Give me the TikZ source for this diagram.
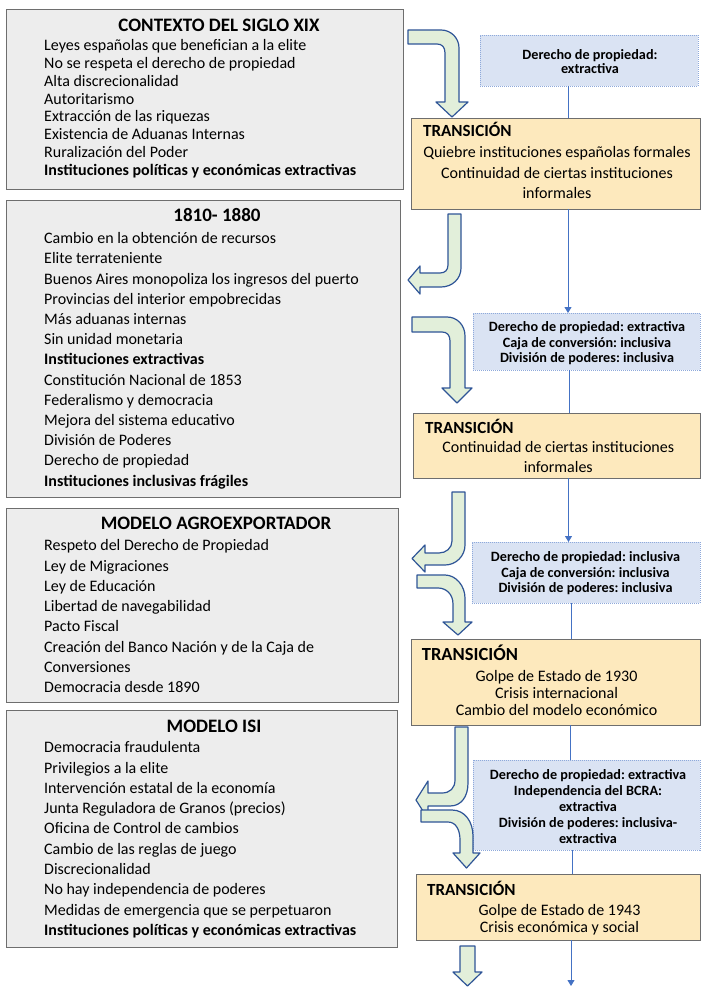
\documentclass[tikz,border=0pt]{standalone}
\usepackage{fontspec}
\setmainfont{Carlito}
\usetikzlibrary{arrows.meta}
\definecolor{grayfill}{HTML}{EDEDED}
\definecolor{boxgray}{HTML}{6E6E6E}
\definecolor{transfill}{HTML}{FDE9BD}
\definecolor{bluefill}{HTML}{DAE3F3}
\definecolor{bluedot}{HTML}{8EA9DB}
\definecolor{greenfill}{HTML}{E2EFDA}
\definecolor{arrowblue}{HTML}{2F5597}
\definecolor{lineblue}{HTML}{4472C4}
\frenchspacing
\begin{document}
\begin{tikzpicture}[x=1pt,y=-1pt,
  box/.style={inner sep=0pt, outer sep=0pt, line width=0.9pt},
  graybox/.style={box, draw=boxgray, fill=grayfill},
  transbox/.style={box, draw=boxgray, fill=transfill},
  bluebox/.style={box, draw=bluedot, fill=bluefill, dash pattern=on 1pt off 1pt},
  greenarrow/.style={draw=arrowblue, fill=greenfill, line width=1.2pt, line join=round},
  blueline/.style={draw=lineblue, line width=0.9pt},
  bluearrow/.style={blueline, -{Triangle[width=7pt,length=6pt]}},
  titletxt/.style={anchor=base, inner sep=0pt, font=\fontsize{19}{22}\selectfont\bfseries},
  transtitle/.style={anchor=base west, inner sep=0pt, font=\fontsize{17}{20}\selectfont\bfseries},
  bodytxt/.style={anchor=north west, inner sep=0pt, align=left},
  transtxt/.style={anchor=north, inner sep=0pt, align=center},
  bluetxt/.style={anchor=north, inner sep=0pt, align=center}
]
\useasboundingbox (0,0) rectangle (701,987);
\fill[white] (0,0) rectangle (701,987);

% ---------- left grey boxes ----------
\node[graybox, minimum width=397pt, minimum height=180pt] (g1) at (204.5,99) {};
\node[graybox, minimum width=394pt, minimum height=297pt] (g2) at (203,348.5) {};
\node[graybox, minimum width=392pt, minimum height=194pt] (g3) at (202,605) {};
\node[graybox, minimum width=391pt, minimum height=237pt] (g4) at (201.5,828.5) {};

\node[titletxt] (g1t) at (219,32) {CONTEXTO DEL SIGLO XIX};
\node[bodytxt, font=\fontsize{16}{17.8}\selectfont] (g1b) at (44,37.5) {\rule{0pt}{13pt}Leyes españolas que benefician a la elite\\
No se respeta el derecho de propiedad\\
Alta discrecionalidad\\
Autoritarismo\\
Extracción de las riquezas\\
Existencia de Aduanas Internas\\
Ruralización del Poder\\
\textbf{Instituciones políticas y económicas extractivas}};

\node[titletxt] (g2t) at (217,221) {1810- 1880};
\node[bodytxt, font=\fontsize{16}{20.2}\selectfont] (g2b) at (44,230.5) {\rule{0pt}{13pt}Cambio en la obtención de recursos\\
Elite terrateniente\\
Buenos Aires monopoliza los ingresos del puerto\\
Provincias del interior empobrecidas\\
Más aduanas internas\\
Sin unidad monetaria\\
\textbf{Instituciones extractivas}\\
Constitución Nacional de 1853\\
Federalismo y democracia\\
Mejora del sistema educativo\\
División de Poderes\\
Derecho de propiedad\\
\textbf{Instituciones inclusivas frágiles}};

\node[titletxt] (g3t) at (216,529.5) {MODELO AGROEXPORTADOR};
\node[bodytxt, font=\fontsize{16}{20.3}\selectfont] (g3b) at (44,537.5) {\rule{0pt}{13pt}Respeto del Derecho de Propiedad\\
Ley de Migraciones\\
Ley de Educación\\
Libertad de navegabilidad\\
Pacto Fiscal\\
Creación del Banco Nación y de la Caja de\\
Conversiones\\
Democracia desde 1890};

\node[titletxt] (g4t) at (214,732.5) {MODELO ISI};
\node[bodytxt, font=\fontsize{16}{20.3}\selectfont] (g4b) at (44,739.5) {\rule{0pt}{13pt}Democracia fraudulenta\\
Privilegios a la elite\\
Intervención estatal de la economía\\
Junta Reguladora de Granos (precios)\\
Oficina de Control de cambios\\
Cambio de las reglas de juego\\
Discrecionalidad\\
No hay independencia de poderes\\
Medidas de emergencia que se perpetuaron\\
\textbf{Instituciones políticas y económicas extractivas}};

% ---------- blue boxes ----------
\node[bluebox, minimum width=218pt, minimum height=51pt] (b1) at (589,60.5) {};
\node[bluebox, minimum width=227pt, minimum height=57pt] (b2) at (586.5,341.5) {};
\node[bluebox, minimum width=228pt, minimum height=61pt] (b3) at (586,572.5) {};
\node[bluebox, minimum width=227pt, minimum height=90pt] (b4) at (586.5,805) {};

\node[bluetxt, font=\fontsize{14.2}{14.3}\selectfont\bfseries] (b1t) at (590,47) {\rule{0pt}{12pt}Derecho de propiedad:\\ extractiva};
\node[bluetxt, font=\fontsize{14.2}{15.5}\selectfont\bfseries] (b2t) at (587,319.5) {\rule{0pt}{12pt}Derecho de propiedad: extractiva\\ Caja de conversión: inclusiva\\ División de poderes: inclusiva};
\node[bluetxt, font=\fontsize{14.2}{15.5}\selectfont\bfseries] (b3t) at (585.5,549.5) {\rule{0pt}{12pt}Derecho de propiedad: inclusiva\\ Caja de conversión: inclusiva\\ División de poderes: inclusiva};
\node[bluetxt, font=\fontsize{14.2}{16}\selectfont\bfseries] (b4t) at (588,767) {\rule{0pt}{12pt}Derecho de propiedad: extractiva\\ Independencia del BCRA:\\ extractiva\\ División de poderes: inclusiva-\\ extractiva};

% ---------- transition boxes ----------
\node[transbox, minimum width=289pt, minimum height=91pt] (t1) at (555.5,163.5) {};
\node[transbox, minimum width=287pt, minimum height=65pt] (t2) at (556.5,445.5) {};
\node[transbox, minimum width=289pt, minimum height=86pt] (t3) at (555.5,682) {};
\node[transbox, minimum width=284pt, minimum height=66pt] (t4) at (558,907) {};

\node[transtitle] (t1h) at (423,137) {TRANSICIÓN};
\node[transtxt, font=\fontsize{16}{20.5}\selectfont] (t1t) at (557,144.5) {\rule{0pt}{13pt}Quiebre instituciones españolas formales\\ Continuidad de ciertas instituciones\\ informales};
\node[transtitle] (t2h) at (425,433) {TRANSICIÓN};
\node[transtxt, font=\fontsize{16}{20}\selectfont] (t2t) at (558.3,439.5) {\rule{0pt}{13pt}Continuidad de ciertas instituciones\\ informales};
\node[transtitle, font=\fontsize{18.5}{20}\selectfont\bfseries] (t3h) at (421.7,660.5) {TRANSICIÓN};
\node[transtxt, font=\fontsize{16}{17}\selectfont] (t3t) at (556.5,668) {\rule{0pt}{13pt}Golpe de Estado de 1930\\ Crisis internacional\\ Cambio del modelo económico};
\node[transtitle] (t4h) at (427,895.5) {TRANSICIÓN};
\node[transtxt, font=\fontsize{16}{17.5}\selectfont] (t4t) at (559.5,902) {\rule{0pt}{13pt}Golpe de Estado de 1943\\ Crisis económica y social};

% ---------- blue connectors ----------
\coordinate (l1) at ([xshift=-21pt]b1.south);
\draw[blueline] (l1) -- (l1 |- t1.north);
\coordinate (l2) at ([xshift=12.5pt]t1.south);
\draw[bluearrow] (l2) -- (l2 |- b2.north);
\coordinate (l3) at ([xshift=-17.5pt]b2.south);
\draw[blueline] (l3) -- (l3 |- t2.north);
\coordinate (l4) at ([xshift=12pt]t2.south);
\draw[bluearrow] (l4) -- (l4 |- b3.north);
\coordinate (l5) at ([xshift=-15pt]b3.south);
\draw[blueline] (l5) -- (l5 |- t3.north);
\coordinate (l6) at ([xshift=14.5pt]t3.south);
\draw[blueline] (l6) -- (l6 |- b4.north);
\coordinate (l7) at ([xshift=-14.5pt]b4.south);
\draw[blueline] (l7) -- (l7 |- t4.north);
\coordinate (l8) at ([xshift=13pt]t4.south);
\coordinate (l8end) at ([yshift=-46pt]l8);
\draw[bluearrow] (l8) -- (l8end);

% ---------- green block arrows ----------
% 1: context -> transition 1
\draw[greenarrow] (408,30) -- (441,30) .. controls (451,30) and (459,38) .. (459,48)
  -- (459,102) -- (468,102) -- (452,117) -- (436,102) -- (445,102) -- (445,53)
  .. controls (445,47) and (442,44) .. (437,44) -- (408,44) -- cycle;
% 2: transition 1 -> 1810-1880
\draw[greenarrow] (448,214) -- (461,214) -- (461,268) .. controls (461,279) and (452,287) .. (441,287)
  -- (420,287) -- (420,294) -- (408,280) -- (420,266) -- (420,273) -- (440,273)
  .. controls (445,273) and (448,270) .. (448,265) -- cycle;
% 3: 1810-1880 -> transition 2
\draw[greenarrow] (412,317) -- (447,317) .. controls (457,317) and (465,325) .. (465,336)
  -- (465,388) -- (472,388) -- (457,403) -- (442,388) -- (450,388) -- (450,341)
  .. controls (450,335) and (447,332) .. (442,332) -- (412,332) -- cycle;
% 4: transition 2 -> agroexportador
\draw[greenarrow] (452,492) -- (465,492) -- (465,545) .. controls (465,556) and (456,565) .. (445,565)
  -- (425,565) -- (425,572) -- (412,558.5) -- (425,545) -- (425,553) -- (439,553)
  .. controls (446,553) and (452,548) .. (452,541) -- cycle;
% 5: agroexportador -> transition 3
\draw[greenarrow] (417,575) -- (445,575) .. controls (456,575) and (465,586) .. (465,598)
  -- (465,622) -- (472,622) -- (458,635) -- (443,622) -- (453,622) -- (453,604)
  .. controls (453,594) and (446,588) .. (438,588) -- (417,588) -- cycle;
% 6: transition 3 -> ISI
\draw[greenarrow] (455,727) -- (468,727) -- (468,783) .. controls (468,797) and (461,806) .. (450,806)
  -- (428,806) -- (428,819) -- (416,800) -- (428,781) -- (428,793) -- (442,793)
  .. controls (450,793) and (455,788) .. (455,780) -- cycle;
% 7: ISI -> transition 4
\draw[greenarrow] (421,810) -- (452,810) .. controls (465,810) and (473,822) .. (473,836)
  -- (473,853) -- (480,853) -- (466.5,868) -- (453,853) -- (460,853) -- (460,840)
  .. controls (460,830) and (456,822) .. (448,822) -- (421,822) -- cycle;
% 8: transition 4 -> down
\draw[greenarrow] (460,946) -- (475,946) -- (475,972) -- (482,972) -- (467.5,986) -- (453,972)
  -- (460,972) -- cycle;
\end{tikzpicture}
\end{document}
